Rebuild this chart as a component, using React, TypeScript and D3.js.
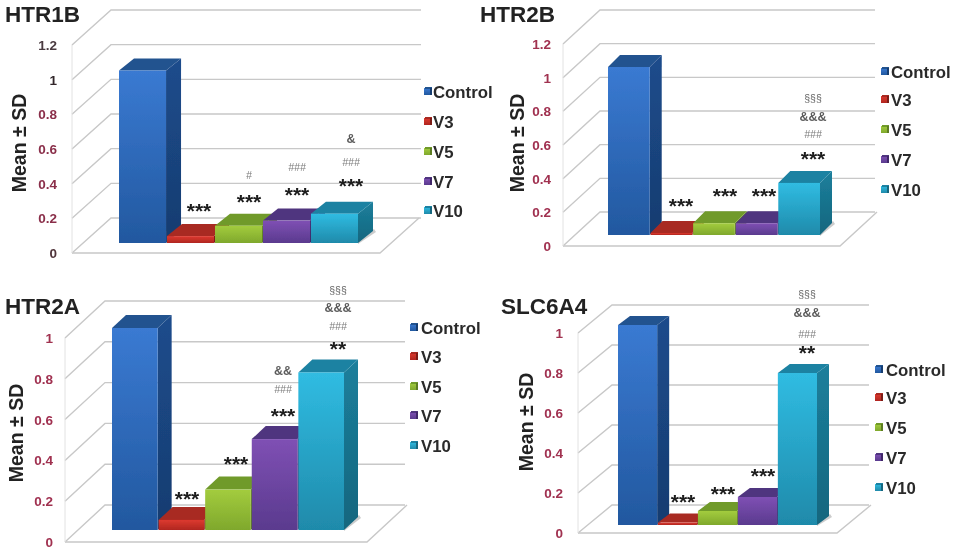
import React from "react";
import * as d3 from "d3";

const categories = ["Control", "V3", "V5", "V7", "V10"];
const htr1bValues = [1, 0.04, 0.1, 0.13, 0.17];
const htr2bValues = [1, 0.012, 0.07, 0.07, 0.31];
const htr2aValues = [1, 0.05, 0.2, 0.45, 0.78];
const slc6a4Values = [1, 0.012, 0.07, 0.14, 0.76];
const ticks12 = [0, 0.2, 0.4, 0.6, 0.8, 1, 1.2];
const ticks10 = [0, 0.2, 0.4, 0.6, 0.8, 1];

const htr1bMarks = [["***"], ["***", "#"], ["***", "###"], ["***", "###", "&"]];
const htr2bMarks = [["***"], ["***"], ["***"], ["***", "###", "&&&", "§§§"]];
const htr2aMarks = [["***"], ["***"], ["***", "###", "&&"], ["**", "###", "&&&", "§§§"]];
const slc6a4Marks = [["***"], ["***"], ["***"], ["**", "###", "&&&", "§§§"]];

const colors: Record<string, { f0: string; f1: string; s0: string; s1: string; t: string }> = {
  Control: { f0: "#3a7ad2", f1: "#22589f", s0: "#1c4c8c", s1: "#173c70", t: "#23528f" },
  V3: { f0: "#dd3a30", f1: "#b0261f", s0: "#8f1f1a", s1: "#7a1a16", t: "#a82a22" },
  V5: { f0: "#a3cc3e", f1: "#7fa82c", s0: "#6c9026", s1: "#5c7c20", t: "#6f9a2a" },
  V7: { f0: "#7f50b4", f1: "#5a3a8e", s0: "#4a2f78", s1: "#3f2868", t: "#50357f" },
  V10: { f0: "#30bce2", f1: "#1f8aaa", s0: "#1c7f9c", s1: "#14667e", t: "#1e82a2" },
};

// Layout only (page pixels)
const panels = [
  {
    title: "HTR1B", values: htr1bValues, ticks: ticks12, marks: htr1bMarks,
    titleX: 5, titleY: 22,
    fl: 72, fr: 380, fy: 253, frontTop: 45, ddx: 39, ddy: 35, barL: 119, barR: 358, barY: 243, barDx: 15, barDy: 12, barScale: 172.5, gridR: 421,
    tickX: 57, tickColors: ["#50343a", "#8a2f4a", "#8a2f4a", "#8a2f4a", "#8a2f4a", "#30282a", "#4a3a40"],
    yTitleX: 26, yTitleY: 143,
    legSw: 424, legTx: 433, legY: [92, 122, 152, 182, 211],
    markX: [199, 249, 297, 351], markY: [[209], [200, 175], [193, 167], [184, 162, 139]],
  },
  {
    title: "HTR2B", values: htr2bValues, ticks: ticks12, marks: htr2bMarks,
    titleX: 480, titleY: 22,
    fl: 563, fr: 840, fy: 246, frontTop: 44, ddx: 37, ddy: 34, barL: 608, barR: 820, barY: 235, barDx: 12, barDy: 12, barScale: 168, gridR: 875,
    tickX: 551, tickColors: ["#a03050", "#a03050", "#a03050", "#a03050", "#a03050", "#a03050", "#a03050"],
    yTitleX: 524, yTitleY: 143,
    legSw: 881, legTx: 891, legY: [72, 100, 130, 160, 190],
    markX: [681, 725, 764, 813], markY: [[204], [194], [194], [157, 134, 117, 98]],
  },
  {
    title: "HTR2A", values: htr2aValues, ticks: ticks10, marks: htr2aMarks,
    titleX: 5, titleY: 314,
    fl: 65, fr: 367, fy: 542, frontTop: 338, ddx: 40, ddy: 37, barL: 112, barR: 344, barY: 530, barDx: 14, barDy: 13, barScale: 202, gridR: 405,
    tickX: 53, tickColors: ["#a03050", "#a03050", "#a03050", "#a03050", "#a03050", "#a03050"],
    yTitleX: 23, yTitleY: 433,
    legSw: 410, legTx: 421, legY: [328, 357, 387, 416, 446],
    markX: [187, 236, 283, 338], markY: [[497], [462], [414, 389, 371], [347, 326, 308, 290]],
  },
  {
    title: "SLC6A4", values: slc6a4Values, ticks: ticks10, marks: slc6a4Marks,
    titleX: 501, titleY: 314,
    fl: 578, fr: 837, fy: 533, frontTop: 333, ddx: 34, ddy: 28, barL: 618, barR: 817, barY: 525, barDx: 12, barDy: 9, barScale: 200, gridR: 869,
    tickX: 563, tickColors: ["#a03050", "#a03050", "#a03050", "#a03050", "#a03050", "#a03050"],
    yTitleX: 533, yTitleY: 422,
    legSw: 875, legTx: 886, legY: [370, 398, 428, 458, 488],
    markX: [683, 723, 763, 807], markY: [[500], [492], [474], [351, 334, 313, 294]],
  },
];

const FONT = "'Liberation Sans', Arial, sans-serif";
const GRID = "#c8c8c8";

function markStyle(t: string) {
  if (t.startsWith("*")) return { size: 21, fill: "#1c1c1c", dy: 8.5, weight: 700, italic: false };
  if (t.startsWith("#")) return { size: 10.5, fill: "#7c7c7c", dy: 4, weight: 400, italic: true };
  if (t.startsWith("&")) return { size: 12.5, fill: "#5c5c5c", dy: 4, weight: 700, italic: false };
  return { size: 10.5, fill: "#666", dy: 4, weight: 400, italic: false };
}

function Panel({ p, idx }: { p: (typeof panels)[number]; idx: number }) {
  const max = d3.max(p.ticks) as number;
  const yFront = d3.scaleLinear().domain([0, max]).range([p.fy, p.frontTop]);
  const x = d3.scaleBand<string>().domain(categories).range([p.barL, p.barR]).paddingInner(0.02);
  const yBar = d3.scaleLinear().domain([0, 1]).range([p.barY, p.barY - p.barScale]);
  const line = d3.line();
  const poly = (pts: [number, number][]) => line(pts)! + "Z";
  return (
    <g>
      {/* grid */}
      {p.ticks.map((t) => (
        <g key={t}>
          <path
            d={line([[p.fl, yFront(t)], [p.fl + p.ddx, yFront(t) - p.ddy], [p.gridR, yFront(t) - p.ddy]])!}
            fill="none" stroke={GRID} strokeWidth={1.4}
          />
        </g>
      ))}
      <path
        d={line([[p.fl, p.fy], [p.fr, p.fy], [p.fr + p.ddx, p.fy - p.ddy]])!}
        fill="none" stroke={GRID} strokeWidth={1.4}
      />
      <path d={line([[p.fl, p.fy], [p.fl, p.frontTop]])!} fill="none" stroke="#e2e2e2" strokeWidth={1} />

      {/* bar shadow */}
      <path
        d={poly([
          [p.barR, p.barY + 1],
          [p.barR + p.barDx + 3, p.barY - p.barDy + 1],
          [p.barR + p.barDx + 1, p.barY - p.barDy - 2],
          [p.barR, p.barY - 3],
        ])}
        fill="#9a9a9a" opacity={0.5}
      />

      {/* bars */}
      {categories.map((c, i) => {
        const v = p.values[i];
        const x0 = x(c)!;
        const x1 = x0 + x.bandwidth();
        const y1 = yBar(v);
        const y0 = yBar(0);
        return (
          <g key={c}>
            <path d={poly([[x1, y0], [x1 + p.barDx, y0 - p.barDy], [x1 + p.barDx, y1 - p.barDy], [x1, y1]])} fill={`url(#side-${c})`} />
            <path d={poly([[x0, y1], [x1, y1], [x1 + p.barDx, y1 - p.barDy], [x0 + p.barDx, y1 - p.barDy]])} fill={colors[c].t} />
            <rect x={x0} y={y1} width={x1 - x0} height={y0 - y1} fill={`url(#front-${c})`} />
          </g>
        );
      })}

      {/* title */}
      <text x={p.titleX} y={p.titleY} fontFamily={FONT} fontWeight={700} fontSize={22.5} fill="#222">
        {p.title}
      </text>

      {/* tick labels */}
      {p.ticks.map((t, i) => (
        <text key={t} x={p.tickX} y={yFront(t) + 5} textAnchor="end" fontFamily={FONT} fontWeight={700} fontSize={13.5} fill={p.tickColors[i]}>
          {d3.format("~g")(t)}
        </text>
      ))}

      {/* y title */}
      <text
        transform={`translate(${p.yTitleX},${p.yTitleY}) rotate(-90)`}
        textAnchor="middle" fontFamily={FONT} fontWeight={700} fontSize={19.5} fill="#222"
      >
        Mean ± SD
      </text>

      {/* legend */}
      {categories.map((c, i) => (
        <g key={c}>
          <rect x={p.legSw} y={p.legY[i] - 4} width={7} height={7} fill={`url(#front-${c})`} />
          <rect x={p.legSw + 1} y={p.legY[i] - 5} width={7} height={2} fill={colors[c].t} />
          <rect x={p.legSw + 6} y={p.legY[i] - 4} width={2} height={7} fill={colors[c].s1} />
          <text x={p.legTx} y={p.legY[i] + 6} fontFamily={FONT} fontWeight={700} fontSize={16.8} fill="#2a2a2a">
            {c}
          </text>
        </g>
      ))}

      {/* significance marks */}
      {p.marks.map((ms, i) =>
        ms.map((t, j) => {
          const s = markStyle(t);
          return (
            <text
              key={`${idx}-${i}-${j}`}
              x={p.markX[i]} y={p.markY[i][j] + s.dy}
              textAnchor="middle" fontFamily={FONT} fontWeight={s.weight} fontStyle={s.italic ? "italic" : "normal"} fontSize={s.size} fill={s.fill}
            >
              {t}
            </text>
          );
        })
      )}
    </g>
  );
}

export default function App() {
  return (
    <svg
      width={957} height={554} viewBox="0 0 957 554"
      style={{ position: "absolute", left: 0, top: 0, display: "block", background: "#fff" }}
    >
      <defs>
        <filter id="soft" x="0" y="0" width="100%" height="100%">
          <feGaussianBlur stdDeviation={0.5} />
        </filter>
        {categories.map((c) => (
          <React.Fragment key={c}>
            <linearGradient id={`front-${c}`} x1="0" y1="0" x2="0" y2="1">
              <stop offset="0" stopColor={colors[c].f0} />
              <stop offset="1" stopColor={colors[c].f1} />
            </linearGradient>
            <linearGradient id={`side-${c}`} x1="0" y1="0" x2="0" y2="1">
              <stop offset="0" stopColor={colors[c].s0} />
              <stop offset="1" stopColor={colors[c].s1} />
            </linearGradient>
          </React.Fragment>
        ))}
      </defs>
      <rect width={957} height={554} fill="#fff" />
      <g filter="url(#soft)">
        {panels.map((p, i) => (
          <Panel key={p.title} p={p} idx={i} />
        ))}
      </g>
    </svg>
  );
}
